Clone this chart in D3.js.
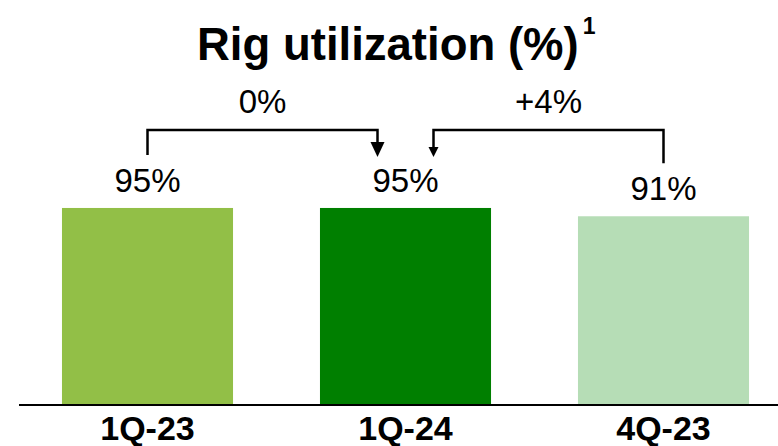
<!DOCTYPE html>
<html>
<head>
<meta charset="utf-8">
<script src="https://cdn.jsdelivr.net/npm/d3@7"></script>
<style>
  html, body { margin: 0; padding: 0; background: #fff; }
  svg { display: block; font-family: "Liberation Sans", Arial, sans-serif; }
</style>
</head>
<body>
<svg id="chart" width="778" height="446"></svg>
<script>
// Rig utilization by quarter
const categories = ["1Q-23", "1Q-24", "4Q-23"];
const utilization = [95, 95, 91];
const valueLabels = ["95%", "95%", "91%"];
const barColors = ["#92bf47", "#007f00", "#b6ddb6"];

// Change brackets: from one quarter to another, with the stated change
const changes = [
  { from: "1Q-23", to: "1Q-24", label: "0%" },
  { from: "4Q-23", to: "1Q-24", label: "+4%" }
];

const svg = d3.select("#chart");
const W = 778, H = 446;
const baseY = 405;

const x = d3.scaleBand()
  .domain(categories)
  .range([18.5, 792.5])
  .paddingInner(0.337)
  .paddingOuter(0.1685);

const y = d3.scaleLinear()
  .domain([0, 100])
  .range([baseY, 197.6]);

// Title with footnote marker
const title = svg.append("text")
  .attr("x", 197)
  .attr("y", 60)
  .attr("font-size", 45.5)
  .attr("font-weight", "bold")
  .attr("fill", "#000")
  .text("Rig utilization (%)");
const tw = title.node().getComputedTextLength();
svg.append("text")
  .attr("x", 197 + tw + 4)
  .attr("y", 34)
  .attr("font-size", 23)
  .attr("font-weight", "bold")
  .attr("fill", "#000")
  .text("1");

// Bars
svg.append("g")
  .selectAll("rect")
  .data(categories)
  .join("rect")
  .attr("x", d => x(d))
  .attr("width", x.bandwidth())
  .attr("y", (d, i) => y(utilization[i]))
  .attr("height", (d, i) => y(0) - y(utilization[i]))
  .attr("fill", (d, i) => barColors[i]);

// Value labels
svg.append("g")
  .selectAll("text")
  .data(categories)
  .join("text")
  .attr("x", d => x(d) + x.bandwidth() / 2)
  .attr("y", (d, i) => y(utilization[i]) - 16)
  .attr("text-anchor", "middle")
  .attr("font-size", 33)
  .attr("fill", "#000")
  .text((d, i) => valueLabels[i]);

// Baseline axis with category labels
const xAxis = d3.axisBottom(x).tickSize(0).tickPadding(0);
const axisG = svg.append("g")
  .attr("transform", `translate(0,${baseY})`)
  .call(xAxis);
axisG.select(".domain").remove();
axisG.append("line")
  .attr("x1", 19).attr("x2", W)
  .attr("y1", 0).attr("y2", 0)
  .attr("stroke", "#000")
  .attr("stroke-width", 2);
axisG.selectAll(".tick text")
  .attr("y", 35)
  .attr("dy", 0)
  .attr("font-family", "\"Liberation Sans\", Arial, sans-serif")
  .attr("font-size", 34)
  .attr("font-weight", "bold")
  .attr("fill", "#000");

// Change brackets with arrows
const valueOf = c => utilization[categories.indexOf(c)];
const center = c => x(c) + x.bandwidth() / 2;
const bracketY = 130;
const tipY = 157;
const arrowOffset = 28;
const heads = [{ w: 14, h: 15 }, { w: 10, h: 10 }];

const bg = svg.append("g");
changes.forEach((c, i) => {
  const x0 = center(c.from);
  const toC = center(c.to);
  const x1 = x0 < toC ? toC - arrowOffset : toC + arrowOffset;
  const y0 = y(valueOf(c.from)) - 53;
  const hd = heads[i];
  bg.append("path")
    .attr("d", `M${x0},${y0}V${bracketY}H${x1}V${tipY - hd.h + 1}`)
    .attr("fill", "none")
    .attr("stroke", "#000")
    .attr("stroke-width", 2.5);
  bg.append("path")
    .attr("d", `M${x1 - hd.w / 2},${tipY - hd.h}L${x1 + hd.w / 2},${tipY - hd.h}L${x1},${tipY}Z`)
    .attr("fill", "#000");
  bg.append("text")
    .attr("x", (x0 + x1) / 2)
    .attr("y", 113)
    .attr("text-anchor", "middle")
    .attr("font-size", 33)
    .attr("fill", "#000")
    .text(c.label);
});
</script>
</body>
</html>
